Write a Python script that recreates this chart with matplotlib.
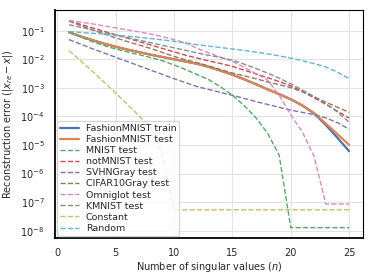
import numpy as np
import matplotlib
matplotlib.use('Agg')
import matplotlib.pyplot as plt
import seaborn as sns

# number of singular values kept
n_values = list(range(1, 26))

# log10 of reconstruction error
fashion_train_log = [-1.05, -1.20, -1.33, -1.45, -1.56, -1.66, -1.75, -1.84, -1.92, -2.00,
                     -2.08, -2.16, -2.27, -2.40, -2.54, -2.70, -2.87, -3.05, -3.22, -3.40,
                     -3.62, -3.90, -4.30, -4.75, -5.22]
fashion_test_log = [-1.05, -1.20, -1.33, -1.45, -1.56, -1.66, -1.75, -1.84, -1.92, -2.00,
                    -2.08, -2.16, -2.27, -2.40, -2.54, -2.70, -2.87, -3.05, -3.22, -3.40,
                    -3.62, -3.88, -4.25, -4.62, -5.00]
mnist_log = [-1.05, -1.22, -1.38, -1.52, -1.64, -1.74, -1.84, -1.94, -2.05, -2.20,
             -2.36, -2.54, -2.72, -2.97, -3.26, -3.62, -4.04, -4.58, -5.35, -7.895,
             -7.895, -7.895, -7.895, -7.895, -7.895]
notmnist_log = [-0.65, -0.78, -0.90, -1.02, -1.14, -1.26, -1.38, -1.50, -1.62, -1.74,
                -1.86, -1.96, -2.06, -2.15, -2.25, -2.38, -2.51, -2.64, -2.78, -2.93,
                -3.13, -3.35, -3.58, -3.82, -4.06]
svhn_log = [-1.31, -1.47, -1.63, -1.78, -1.93, -2.08, -2.23, -2.38, -2.53, -2.68,
            -2.82, -2.96, -3.06, -3.16, -3.26, -3.37, -3.48, -3.58, -3.68, -3.78,
            -3.86, -3.94, -4.05, -4.22, -4.45]
cifar_log = [-0.66, -0.82, -0.97, -1.11, -1.25, -1.38, -1.50, -1.62, -1.76, -1.90,
             -2.02, -2.12, -2.24, -2.36, -2.48, -2.58, -2.68, -2.79, -2.89, -2.99,
             -3.14, -3.32, -3.50, -3.68, -3.86]
omniglot_log = [-0.64, -0.70, -0.76, -0.83, -0.90, -0.97, -1.04, -1.12, -1.21, -1.31,
                -1.43, -1.62, -1.78, -1.93, -2.07, -2.28, -2.50, -2.72, -3.25, -3.95,
                -4.55, -5.40, -7.07, -7.07, -7.07]
kmnist_log = [-0.79, -0.88, -0.97, -1.06, -1.15, -1.24, -1.33, -1.42, -1.51, -1.60,
              -1.69, -1.78, -1.86, -1.94, -2.03, -2.17, -2.32, -2.48, -2.66, -2.86,
              -3.08, -3.30, -3.55, -3.85, -4.20]
constant_log = [-1.70, -2.05, -2.42, -2.80, -3.18, -3.58, -3.98, -4.40, -5.35, -7.27,
                -7.27, -7.27, -7.27, -7.27, -7.27, -7.27, -7.27, -7.27, -7.27, -7.27,
                -7.27, -7.27, -7.27, -7.27, -7.27]
random_log = [-1.03, -1.06, -1.09, -1.12, -1.16, -1.19, -1.23, -1.27, -1.32, -1.37,
              -1.43, -1.49, -1.54, -1.59, -1.64, -1.69, -1.75, -1.81, -1.88, -1.96,
              -2.05, -2.15, -2.27, -2.45, -2.68]

series = [
    ('FashionMNIST train', fashion_train_log, '-'),
    ('FashionMNIST test', fashion_test_log, '-'),
    ('MNIST test', mnist_log, '--'),
    ('notMNIST test', notmnist_log, '--'),
    ('SVHNGray test', svhn_log, '--'),
    ('CIFAR10Gray test', cifar_log, '--'),
    ('Omniglot test', omniglot_log, '--'),
    ('KMNIST test', kmnist_log, '--'),
    ('Constant', constant_log, '--'),
    ('Random', random_log, '--'),
]

sns.set_theme(style='whitegrid')
colors = sns.color_palette('deep', 10)

fig, ax = plt.subplots(figsize=(3.74, 2.8), dpi=100)
fig.subplots_adjust(left=0.147, right=0.971, bottom=0.15, top=0.964)

for i, (label, vals, ls) in enumerate(series):
    lw = 1.6 if ls == '-' else 1.0
    ax.plot(n_values, 10 ** np.array(vals), ls, color=colors[i], lw=lw, label=label)

ax.set_yscale('log')
ax.set_xticks([0, 5, 10, 15, 20, 25])
ax.set_xlabel(r'Number of singular values ($n$)', fontsize=7, labelpad=1, color='#262626')
ax.set_ylabel(r'Reconstruction error ($|x_{re} - x|$)', fontsize=7, labelpad=4, color='#262626')
ax.tick_params(labelsize=7, pad=1.5)
ax.minorticks_off()
for side in ['top', 'right', 'left', 'bottom']:
    ax.spines[side].set_color('black')
ax.spines['left'].set_linewidth(1.3)
ax.spines['bottom'].set_linewidth(1.3)
ax.spines['top'].set_linewidth(0.8)
ax.spines['right'].set_linewidth(0.8)
ax.grid(True, color='#e3e3e3', linewidth=0.8)
ax.legend(loc='lower left', fontsize=6.8, labelspacing=0.22, handlelength=2.0,
          borderpad=0.3, handletextpad=0.7, borderaxespad=0.25)

fig.savefig('out.png', dpi=100)
